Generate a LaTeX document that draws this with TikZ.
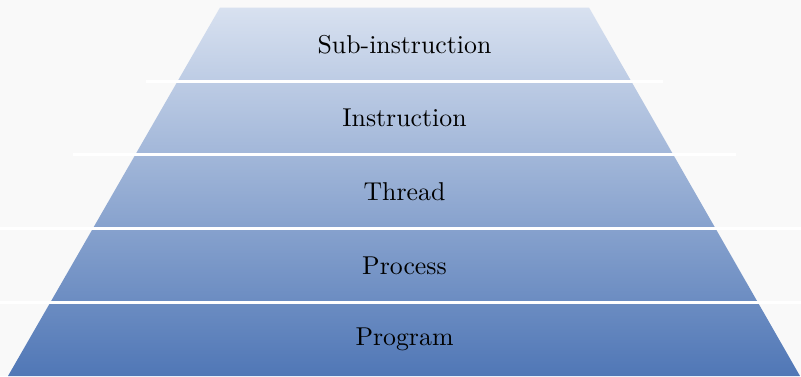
\documentclass[tikz,border=0pt]{standalone}
\definecolor{pagebg}{HTML}{F9F9F9}
\definecolor{layertop}{HTML}{D8E1F0}
\definecolor{layerbottom}{HTML}{5077B6}
\begin{document}
\begin{tikzpicture}[x=1pt, y=-1pt,
  levellabel/.style={scale=2.58, text=black, inner sep=0pt},
  separator/.style={white, line width=3pt}]
  % canvas
  \fill[pagebg] (0,0) rectangle (801,376);
  \useasboundingbox (0,0) rectangle (801,376);
  \def\h{73.7}
  \begin{scope}
    \clip (0,0) rectangle (801,376);
    % the pyramid body, one continuous shading
    \shade[top color=layertop, bottom color=layerbottom]
      (220,7.5) -- (589,7.5) -- (800,376) -- (8,376) -- cycle;
    % white separators between the levels
    \foreach \k in {1,...,4} {
      \draw[separator] ({220-\k*\h}, {7.5+\k*\h}) -- ({589+\k*\h}, {7.5+\k*\h});
    }
  \end{scope}
  % level labels
  \node[levellabel] (subinstr) at (404.5, {7.5+0.5*\h}) {Sub-instruction};
  \node[levellabel] (instr)    at (404.5, {7.5+1.5*\h}) {Instruction};
  \node[levellabel] (thread)   at (404.5, {7.5+2.5*\h}) {Thread};
  \node[levellabel] (process)  at (404.5, {7.5+3.5*\h}) {Process};
  \node[levellabel] (program)  at (404.5, {7.5+4.5*\h}) {Program};
\end{tikzpicture}
\end{document}
